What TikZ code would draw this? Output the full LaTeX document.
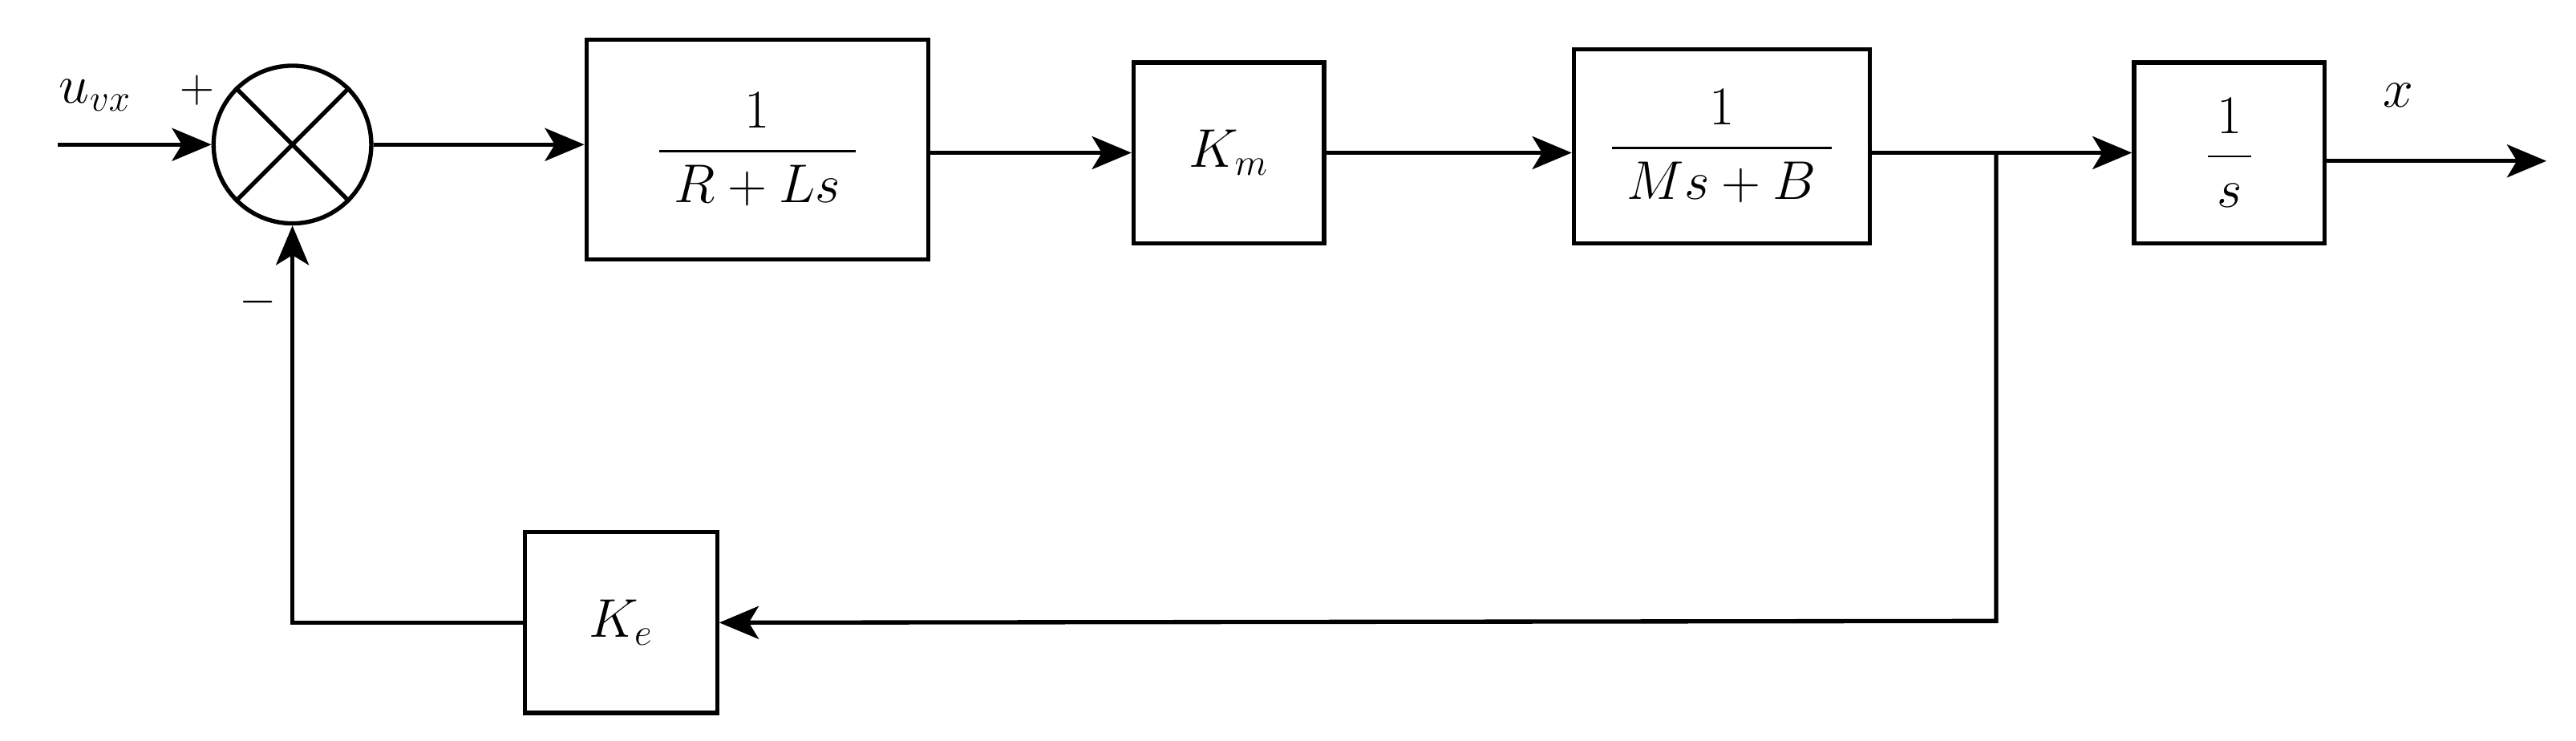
\documentclass[tikz,border=0pt]{standalone}
\usepackage{amsmath}
\usetikzlibrary{arrows.meta}
\begin{document}
\begin{tikzpicture}[x=1pt,y=-1pt,line width=2.6pt,
  arr/.style={-{Stealth[length=24pt,width=20pt,inset=6pt]}},
  txt/.style={font=\huge}]
\useasboundingbox (0,0) rectangle (1568,451);
\node[draw,circle,minimum size=96pt,inner sep=0pt] (sum) at (178,88) {};
\draw (sum.north east) -- (sum.south west) (sum.north west) -- (sum.south east);
\node[draw,minimum width=208pt,minimum height=134pt] (b1) at (461,91) {};
\node[scale=1.6,txt] (t1) at (b1) {$\dfrac{1}{\;R+Ls\;}$};
\node[draw,minimum width=116pt,minimum height=110pt] (b2) at (748,93) {};
\node[scale=1.6,txt] (t2) at (b2) {$K_m$};
\node[draw,minimum width=180pt,minimum height=118pt] (b3) at (1048,89) {};
\node[scale=1.6,txt] (t3) at (b3) {$\dfrac{1}{\;Ms+B\;}$};
\node[draw,minimum width=116pt,minimum height=110pt] (b4) at (1357,93) {};
\node[scale=1.6,txt] (t4) at (b4) {$\dfrac{1}{\,s\,}$};
\node[draw,minimum width=117pt,minimum height=110pt] (ke) at (378,379) {};
\node[scale=1.6,txt] (t5) at (ke) {$K_e$};
\coordinate (in) at (35,88);
\coordinate (out) at (1550,98);
\coordinate (br) at (1215,93);
\coordinate (br2) at (1215,378);
\coordinate (fl) at (178,379);
\draw[arr] (in) -- (sum.west);
\draw[arr] (sum.east) -- (b1.west |- sum.east);
\draw[arr] (b1.east |- b2) -- (b2.west);
\draw[arr] (b2.east) -- (b3.west |- b2);
\draw[arr] (b3.east |- b4) -- (b4.west);
\draw[arr] (b4.east |- out) -- (out);
\draw[arr] (br) -- (br2) -- (ke.east);
\draw[arr] (ke.west) -- (fl) -- (sum.south);
\node[scale=1.6,txt] (lu) at (58,58) {$u_{vx}$};
\node[scale=1.4,txt] (lp) at (120,55) {$+$};
\node[scale=1.4,txt] (lm) at (157,184) {$-$};
\node[scale=1.6,txt] (lx) at (1460,58) {$x$};
\end{tikzpicture}
\end{document}
